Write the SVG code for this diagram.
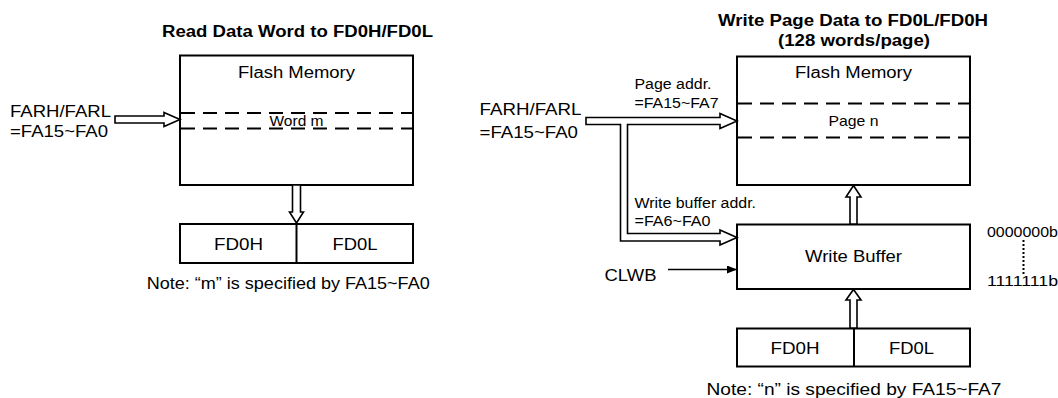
<svg xmlns="http://www.w3.org/2000/svg" width="1058" height="398" viewBox="0 0 1058 398">
<style>
text{font-family:"Liberation Sans",Arial,sans-serif;fill:#000}
.t{font-size:16px;font-weight:bold}
.m{font-size:16px}
.s{font-size:14px}
.box{fill:#fff;stroke:#000;stroke-width:2}
.dash{stroke:#000;stroke-width:2;stroke-dasharray:14,8;fill:none}
.ha{fill:#fff;stroke:#000;stroke-width:1.6;stroke-linejoin:miter}
.ln{stroke:#000;stroke-width:1.6;fill:none}
</style>
<defs>
<marker id="ah" markerWidth="10" markerHeight="8" refX="9" refY="4" orient="auto" markerUnits="userSpaceOnUse">
<path d="M0,0 L10,4 L0,8 Z" fill="#000"/>
</marker>
</defs>

<g id="titles">
<text class="t" x="297.5" y="36.5" text-anchor="middle" textLength="271" lengthAdjust="spacingAndGlyphs">Read Data Word to FD0H/FD0L</text>
<text class="t" x="853" y="25.5" text-anchor="middle" textLength="270" lengthAdjust="spacingAndGlyphs">Write Page Data to FD0L/FD0H</text>
<text class="t" x="854" y="46" text-anchor="middle" textLength="152" lengthAdjust="spacingAndGlyphs">(128 words/page)</text>
</g>

<g id="flash-left">
<rect class="box" x="180" y="55.5" width="233" height="129.5"/>
<text class="m" x="296.5" y="78.3" text-anchor="middle" textLength="117" lengthAdjust="spacingAndGlyphs">Flash Memory</text>
<line class="dash" x1="181" y1="113" x2="412" y2="113"/>
<line class="dash" x1="181" y1="128.5" x2="412" y2="128.5"/>
<text class="m" x="296.5" y="126" text-anchor="middle" textLength="54" lengthAdjust="spacingAndGlyphs" style="font-size:15px">Word m</text>
</g>

<g id="fd0-left">
<rect class="box" x="180" y="224" width="233" height="39"/>
<line class="ln" x1="296.5" y1="224" x2="296.5" y2="263" style="stroke-width:2"/>
<text class="m" x="238.5" y="250" text-anchor="middle" textLength="49" lengthAdjust="spacingAndGlyphs">FD0H</text>
<text class="m" x="355" y="250" text-anchor="middle" textLength="45" lengthAdjust="spacingAndGlyphs">FD0L</text>
</g>

<g id="labels-left">
<text class="m" x="10" y="116.5" textLength="101" lengthAdjust="spacingAndGlyphs">FARH/FARL</text>
<text class="m" x="10" y="136.5" textLength="98" lengthAdjust="spacingAndGlyphs">=FA15~FA0</text>
<text class="m" x="146.7" y="289" textLength="283" lengthAdjust="spacingAndGlyphs">Note: “m” is specified by FA15~FA0</text>
</g>

<g id="flash-right">
<rect class="box" x="737" y="56.5" width="233" height="128.5"/>
<text class="m" x="853.5" y="78.3" text-anchor="middle" textLength="117" lengthAdjust="spacingAndGlyphs">Flash Memory</text>
<line class="dash" x1="738" y1="103.5" x2="969" y2="103.5"/>
<line class="dash" x1="738" y1="137.5" x2="969" y2="137.5"/>
<text class="m" x="853.5" y="126" text-anchor="middle" textLength="50" lengthAdjust="spacingAndGlyphs" style="font-size:15px">Page n</text>
</g>

<g id="write-buffer">
<rect class="box" x="737" y="224.5" width="233" height="64.5"/>
<text class="m" x="853.5" y="262.3" text-anchor="middle" textLength="97" lengthAdjust="spacingAndGlyphs">Write Buffer</text>
</g>

<g id="fd0-right">
<rect class="box" x="737" y="328.5" width="233" height="38"/>
<line class="ln" x1="854" y1="328.5" x2="854" y2="366.5" style="stroke-width:2"/>
<text class="m" x="795" y="353.5" text-anchor="middle" textLength="49" lengthAdjust="spacingAndGlyphs">FD0H</text>
<text class="m" x="911.5" y="353.5" text-anchor="middle" textLength="45" lengthAdjust="spacingAndGlyphs">FD0L</text>
</g>

<g id="labels-right">
<text class="m" x="479.5" y="115" textLength="102" lengthAdjust="spacingAndGlyphs">FARH/FARL</text>
<text class="m" x="479.5" y="137.5" textLength="98.5" lengthAdjust="spacingAndGlyphs">=FA15~FA0</text>
<text class="s" x="634.5" y="89" textLength="77" lengthAdjust="spacingAndGlyphs">Page addr.</text>
<text class="s" x="634.5" y="107.5" textLength="84" lengthAdjust="spacingAndGlyphs">=FA15~FA7</text>
<text class="s" x="634.5" y="207.5" textLength="121.5" lengthAdjust="spacingAndGlyphs">Write buffer addr.</text>
<text class="s" x="634.5" y="225.5" textLength="76" lengthAdjust="spacingAndGlyphs">=FA6~FA0</text>
<text class="m" x="604.5" y="281" textLength="52" lengthAdjust="spacingAndGlyphs">CLWB</text>
<text class="s" x="987" y="236.5" textLength="71" lengthAdjust="spacingAndGlyphs">0000000b</text>
<text class="s" x="987" y="286" textLength="71" lengthAdjust="spacingAndGlyphs">1111111b</text>
<text class="m" x="706.5" y="395" textLength="295" lengthAdjust="spacingAndGlyphs">Note: “n” is specified by FA15~FA7</text>
</g>

<g id="connectors">
<polygon class="ha" points="115,116 164,116 164,112.5 180,119.5 164,126.5 164,123 115,123"/>
<polygon class="ha" points="292.5,185 300.5,185 300.5,212 303.5,212 296.5,223 289.5,212 292.5,212"/>
<polygon class="ha" points="586,117.5 720,117.5 720,113.5 737,121 720,128.5 720,124.5 627.5,124.5 627.5,233.5 720,233.5 720,230 737,237.5 720,245 720,241 620.5,241 620.5,124.5 586,124.5"/>
<polygon class="ha" points="850,224 857,224 857,197 861,197 853.5,185.5 846,197 850,197"/>
<polygon class="ha" points="850,328 857,328 857,300 861,300 853.5,289.5 846,300 850,300"/>
<line class="ln" x1="668" y1="269.5" x2="736" y2="269.5" marker-end="url(#ah)"/>
<line x1="1023.5" y1="240" x2="1023.5" y2="274" stroke="#000" stroke-width="2" stroke-dasharray="2,2"/>
</g>
</svg>
